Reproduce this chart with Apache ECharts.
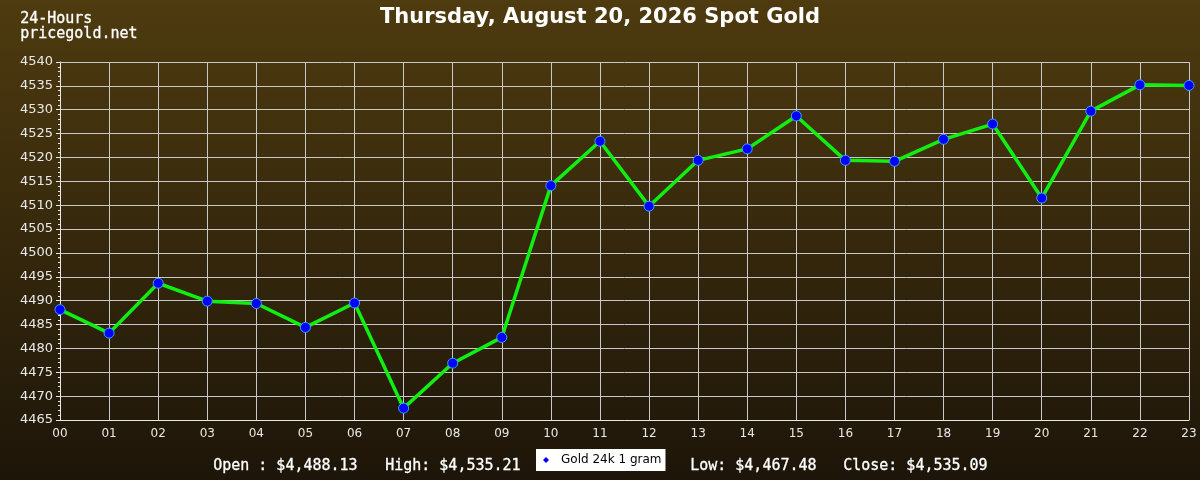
<!DOCTYPE html>
<html>
<head>
<meta charset="utf-8">
<script src="https://cdn.jsdelivr.net/npm/echarts@6/dist/echarts.min.js"></script>
<style>
html,body{margin:0;padding:0;width:1200px;height:480px;overflow:hidden;}
#chart{width:1200px;height:480px;}
</style>
</head>
<body>
<div id="chart"></div>
<script>
const hours = ['00','01','02','03','04','05','06','07','08','09','10','11','12','13','14','15','16','17','18','19','20','21','22','23'];
const prices = [4488.13, 4483.2, 4493.65, 4489.9, 4489.4, 4484.4, 4489.5, 4467.48, 4476.9, 4482.3, 4514.1, 4523.4, 4509.8, 4519.4, 4521.8, 4528.7, 4519.4, 4519.2, 4523.8, 4527.0, 4511.5, 4529.7, 4535.21, 4535.09];
const seriesName = 'Gold 24k 1 gram';
const titleText = 'Thursday, August 20, 2026 Spot Gold';
const cornerLines = ['24-Hours', 'pricegold.net'];
const statsLabels = ['Open : $4,488.13', 'High: $4,535.21', 'Low: $4,467.48', 'Close: $4,535.09'];
const statsX = [213, 385, 690, 843];

const chart = echarts.init(document.getElementById('chart'));
const mono = '"DejaVu Sans Mono", monospace';
const graphics = [];
cornerLines.forEach((t, i) => {
  graphics.push({type:'text', left:20, top: 11 + i*15, style:{text:t, fill:'#ffffff', font:'15px ' + mono, stroke:'#ffffff', lineWidth:0.3}});
});
statsLabels.forEach((t, i) => {
  graphics.push({type:'text', left: statsX[i], top: 458, style:{text:t, fill:'#ffffff', font:'15px ' + mono, stroke:'#ffffff', lineWidth:0.3}});
});

chart.setOption({
  backgroundColor: new echarts.graphic.LinearGradient(0,0,0,1,[
    {offset:0, color:'#4e3b0f'},
    {offset:1, color:'#1d1509'}
  ]),
  animation:false,
  title:{
    text:titleText, left:'center', top:2,
    textStyle:{color:'#ffffff', fontFamily:'DejaVu Sans', fontWeight:'bold', fontSize:21}
  },
  graphic: graphics,
  legend:{
    data:[{name:seriesName, icon:'diamond'}],
    left:536, top:449,
    backgroundColor:'#ffffff',
    padding:[5,4,5,7],
    itemWidth:6, itemHeight:6,
    itemStyle:{color:'#0000ff', borderWidth:0},
    textStyle:{color:'#000000', fontFamily:'DejaVu Sans', fontSize:12, padding:[0,0,0,7]}
  },
  grid:{left:60, right:11, top:62, bottom:60, containLabel:false},
  xAxis:{
    type:'category', data:hours, boundaryGap:false,
    axisLine:{lineStyle:{color:'#e8e8e8', width:1}},
    axisTick:{show:false},
    axisLabel:{color:'#e8e8e8', fontFamily:'DejaVu Sans', fontSize:12, margin:8},
    splitLine:{show:true, lineStyle:{color:'#c8c8c8', width:1}}
  },
  yAxis:{
    type:'value', min:4465, max:4540, interval:5,
    axisLine:{show:true, lineStyle:{color:'#e8e8e8', width:1}},
    axisTick:{show:true, length:4, lineStyle:{color:'#e8e8e8'}},
    minorTick:{show:true, splitNumber:5, length:2, lineStyle:{color:'#e8e8e8'}},
    axisLabel:{color:'#e8e8e8', fontFamily:'DejaVu Sans', fontSize:13, margin:7, formatter: v => String(v)},
    splitLine:{show:true, lineStyle:{color:'#c8c8c8', width:1}}
  },
  series:[{
    name:seriesName, type:'line', data:prices,
    symbol:'circle', symbolSize:10,
    itemStyle:{color:'#0000ff', borderColor:'#3aa0ff', borderWidth:1},
    lineStyle:{color:'#11ee11', width:3.5}
  }]
});
</script>
</body>
</html>
